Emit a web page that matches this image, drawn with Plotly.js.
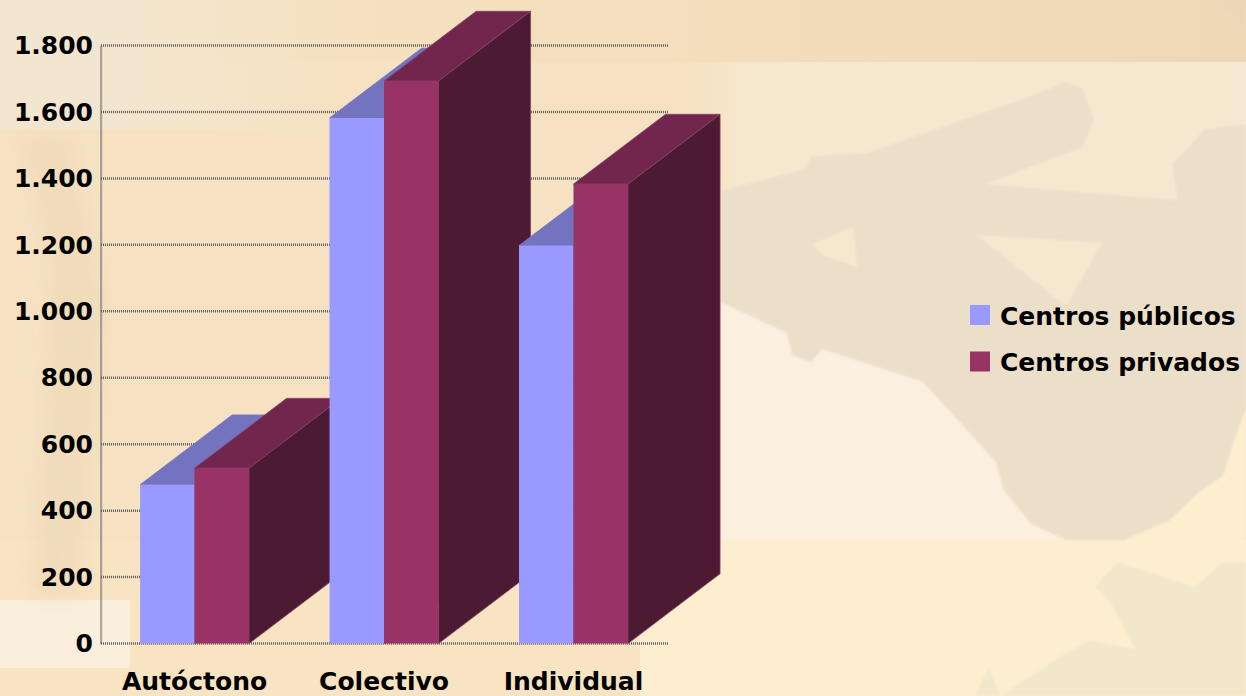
<!DOCTYPE html>
<html>
<head>
<meta charset="utf-8">
<script src="https://cdn.plot.ly/plotly-3.0.1.min.js"></script>
<style>
html,body{margin:0;padding:0;width:1246px;height:696px;overflow:hidden;background:#f7e2c1}
#bg{position:absolute;left:0;top:0}
#chart{position:absolute;left:0;top:0;width:1246px;height:696px}
</style>
</head>
<body>
<svg id="bg" width="1246" height="696" viewBox="0 0 1246 696">
  <defs>
    <linearGradient id="topband" x1="0" y1="0" x2="1" y2="0">
      <stop offset="0" stop-color="#f5e3c4"/><stop offset="0.6" stop-color="#f4ddbb"/><stop offset="1" stop-color="#eed8b6"/>
    </linearGradient>
    <linearGradient id="mid" x1="0" y1="0" x2="1" y2="0">
      <stop offset="0" stop-color="#f6e2c3"/><stop offset="0.56" stop-color="#f6e2c2"/><stop offset="0.6" stop-color="#f6e8cf"/><stop offset="1" stop-color="#f6e8d0"/>
    </linearGradient>
    <linearGradient id="fade" x1="0" y1="0" x2="1" y2="0">
      <stop offset="0" stop-color="#f3e6d0"/><stop offset="0.3" stop-color="#f3e6d0"/><stop offset="1" stop-color="#f3e6d0" stop-opacity="0"/>
    </linearGradient>
    <filter id="soft"><feGaussianBlur stdDeviation="1.2"/></filter>
    <filter id="softer"><feGaussianBlur stdDeviation="10"/></filter>
  </defs>
  <rect width="1246" height="696" fill="#f8e3c3"/>
  <rect y="62" width="1246" height="478" fill="url(#mid)"/>
  <rect width="1246" height="62" fill="url(#topband)"/>
  <rect y="540" x="640" width="606" height="156" fill="#fdeed0"/>
  <rect x="0" y="0" width="330" height="130" fill="url(#fade)"/>
  <rect x="0" y="600" width="130" height="68" fill="#faeedd"/>
  <g filter="url(#softer)" fill="#efdab9" opacity="0.8">
    <path d="M18 135 L70 135 L105 300 L90 480 L80 595 L30 595 L45 420 L50 260 Z"/>
  </g>
  <g filter="url(#soft)">
    <path d="M720 302 L787 333 L792 355 L811 362 L822 349 L923 382 L996 462 L1003 489 L1031 524 L1066 540 L720 540 Z" fill="#fbf0e0"/>
    <path fill-rule="evenodd" fill="#ecdfca" d="M721 191 L805 169 L811 156 L867 153 L1031 96 L1066 82 L1083 89 L1094 120 L1083 147 L986 184 L1177 200 L1172 164 L1205 129 L1246 124 L1246 409 L1233 444 L1223 476 L1198 493 L1170 520 L1125 540 L1066 540 L1031 524 L1003 489 L996 462 L923 382 L822 349 L811 362 L792 355 L787 333 L721 302 Z M977 235 L1102 243 L1066 306 Z M813 244 L853 227 L857 267 L822 255 Z"/>
    <path fill="#f3e7cb" d="M1095 587 L1118 562 L1195 587 L1223 562 L1246 562 L1246 696 L975 696 L989 667 L1000 696 L1066 653 L1090 640 L1135 649 L1111 604 Z"/>
    <path fill="#fdeed0" d="M1246 409 L1233 444 L1223 476 L1198 493 L1170 520 L1125 540 L1246 540 Z"/>
    <path fill="#ecd8b8" d="M1215 0 L1246 0 L1246 30 Z"/>
  </g>
</svg>
<div id="chart"></div>
<script>
var categories = ["Autóctono", "Colectivo", "Individual"];
var centrosPublicos = [478, 1582, 1198];
var centrosPrivados = [528, 1693, 1383];
var yTicks = [0, 200, 400, 600, 800, 1000, 1200, 1400, 1600, 1800];

var barW = 0.2875, depthX = 0.486, depthY = 210;
var colors = {
  pubFront: "#9999ff", pubTop: "#7373bf", pubSide: "#4d4d80",
  priFront: "#993366", priTop: "#73264d", priSide: "#4d1a33"
};
var positions = categories.map(function (_, i) { return i; });
var axisLeft = -0.494, axisRight = 2.503, axisTop = 1800;
var xRange = [-0.499, 2.826], yRange = [-13.5, 1922];

function face(xs, ys, fill, edge) {
  return {
    type: "scatter", mode: "lines", x: xs, y: ys, fill: "toself", fillcolor: fill,
    line: { color: edge, width: 0.8 }, showlegend: false, hoverinfo: "skip",
    xaxis: "x", yaxis: "y"
  };
}

var gridX = [], gridY = [];
yTicks.forEach(function (t) {
  gridX.push(axisLeft, axisRight, null);
  gridY.push(t, t, null);
});
gridX.push(axisLeft, axisLeft);
gridY.push(0, axisTop);
var grid = {
  type: "scatter", mode: "lines", x: gridX, y: gridY, connectgaps: false,
  line: { color: "#5e5e5e", width: 2.5, dash: "1px,1px" },
  showlegend: false, hoverinfo: "skip", xaxis: "x", yaxis: "y"
};

var faces = [];
positions.forEach(function (p, i) {
  var a = p - barW, m = p, b = p + barW;
  var v1 = centrosPublicos[i], v2 = centrosPrivados[i];
  faces.push(face([a, m, m + depthX, a + depthX, a], [v1, v1, v1 + depthY, v1 + depthY, v1], colors.pubTop, colors.pubTop));
  faces.push(face([m, m + depthX, m + depthX, m, m], [0, depthY, v1 + depthY, v1, 0], colors.pubSide, colors.pubSide));
  faces.push(face([m, b, b + depthX, m + depthX, m], [v2, v2, v2 + depthY, v2 + depthY, v2], colors.priTop, "#85456a"));
  faces.push(face([b, b + depthX, b + depthX, b, b], [0, depthY, v2 + depthY, v2, 0], colors.priSide, "#85456a"));
});

var bars = [
  { type: "bar", name: "Centros públicos", x: positions, y: centrosPublicos, legendgroup: "a",
    marker: { color: colors.pubFront, line: { width: 0 } }, xaxis: "x2", yaxis: "y2", hoverinfo: "x+y" },
  { type: "bar", name: "Centros privados", x: positions, y: centrosPrivados, legendgroup: "b",
    marker: { color: colors.priFront, line: { width: 0 } }, xaxis: "x2", yaxis: "y2", hoverinfo: "x+y" }
];

var fontBase = { family: "'DejaVu Sans', sans-serif", size: 25, color: "#000000", weight: 700 };

var layout = {
  width: 1246, height: 696,
  paper_bgcolor: "rgba(0,0,0,0)", plot_bgcolor: "rgba(0,0,0,0)",
  margin: { l: 100, r: 516, t: 5, b: 48, pad: 0 },
  barmode: "group", bargap: 0.425, bargroupgap: 0,
  separators: ",.",
  showlegend: true,
  legend: { x: 960 / 1246, y: 0.514, xanchor: "left", yanchor: "middle", xref: "container", yref: "container",
    font: fontBase, bgcolor: "rgba(0,0,0,0)", tracegroupgap: 11, traceorder: "grouped", itemwidth: 30 },
  xaxis: { type: "linear", range: xRange, tickmode: "array", tickvals: positions, ticktext: categories,
    showgrid: false, zeroline: false, showline: false, ticks: "", tickfont: fontBase, ticklabelstandoff: 16, ticklabelshift: 1.5, fixedrange: true },
  yaxis: { type: "linear", range: yRange, tickmode: "array", tickvals: yTicks, tickformat: ",d",
    showgrid: false, zeroline: false, showline: false, ticks: "", tickfont: fontBase, ticklabelstandoff: 6, fixedrange: true },
  xaxis2: { overlaying: "x", matches: "x", range: xRange, visible: false, type: "linear" },
  yaxis2: { overlaying: "y", matches: "y", range: yRange, visible: false, type: "linear" }
};

Plotly.newPlot("chart", [grid].concat(faces, bars), layout, { displayModeBar: false, staticPlot: true }).then(function () {
  var swatch = [colors.pubFront, colors.priFront];
  document.querySelectorAll("#chart .legend .traces").forEach(function (t, i) {
    t.querySelectorAll(".legendpoints path").forEach(function (p) {
      p.style.stroke = swatch[i];
      p.style.strokeWidth = "8px";
      p.style.strokeOpacity = 1;
    });
  });
});
</script>
</body>
</html>
